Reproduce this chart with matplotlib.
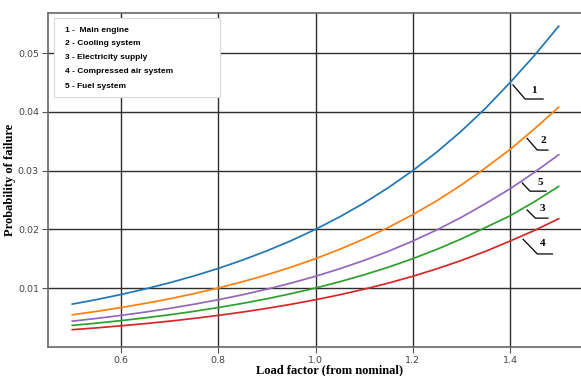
import matplotlib.pyplot as plt
from matplotlib.patches import Rectangle

# Load factor (fraction of nominal) and failure probability per subsystem
load = [0.50, 0.55, 0.60, 0.65, 0.70, 0.75, 0.80, 0.85, 0.90, 0.95, 1.00,
        1.05, 1.10, 1.15, 1.20, 1.25, 1.30, 1.35, 1.40, 1.45, 1.50]

main_engine = [0.00726, 0.00803, 0.00889, 0.00984, 0.01089, 0.01205, 0.01333,
               0.01476, 0.01633, 0.01807, 0.0200, 0.02213, 0.02449, 0.02711,
               0.0300, 0.0332, 0.03674, 0.04066, 0.0450, 0.0496, 0.0546]
cooling = [0.00544, 0.00602, 0.00667, 0.00738, 0.00816, 0.00904, 0.0100,
           0.01107, 0.01225, 0.01355, 0.0150, 0.0166, 0.01837, 0.02033,
           0.0225, 0.0249, 0.02756, 0.0305, 0.03360, 0.0371, 0.0408]
electricity = [0.00363, 0.00402, 0.00444, 0.00492, 0.00544, 0.00602, 0.00667,
               0.00738, 0.00816, 0.00904, 0.0100, 0.01107, 0.01225, 0.01355,
               0.0150, 0.0166, 0.01837, 0.02033, 0.0223, 0.0247, 0.0273]
compressed_air = [0.0029, 0.00321, 0.00356, 0.00393, 0.00435, 0.00482, 0.00533,
                  0.0059, 0.00653, 0.00723, 0.0080, 0.00885, 0.0098, 0.01084,
                  0.0120, 0.01328, 0.0147, 0.01626, 0.0180, 0.0198, 0.0218]
fuel = [0.00435, 0.00482, 0.00533, 0.0059, 0.00653, 0.00723, 0.0080,
        0.00885, 0.0098, 0.01084, 0.0120, 0.01328, 0.0147, 0.01626,
        0.0180, 0.01992, 0.02205, 0.0244, 0.0269, 0.0297, 0.0327]

legend_labels = ["1 -  Main engine", "2 - Cooling system", "3 - Electricity supply",
                 "4 - Compressed air system", "5 - Fuel system"]

# curve number, leader start, elbow, end, text position (data coords)
callouts = [
    ("1", (1.406, 0.0446), (1.431, 0.0422), (1.468, 0.0422), (1.449, 0.0437)),
    ("2", (1.435, 0.0355), (1.456, 0.0335), (1.478, 0.0335), (1.468, 0.0352)),
    ("5", (1.425, 0.0279), (1.441, 0.0265), (1.474, 0.0265), (1.462, 0.0280)),
    ("3", (1.435, 0.0233), (1.452, 0.0219), (1.478, 0.0219), (1.466, 0.0236)),
    ("4", (1.427, 0.0183), (1.456, 0.0158), (1.487, 0.0158), (1.468, 0.0175)),
]

W, H = 581, 376
fig = plt.figure(figsize=(W / 100, H / 100), dpi=100)
ax = fig.add_axes([48 / W, 1 - 346.7 / H, 535 / W, 333.4 / H])

ax.plot(load, main_engine, color="C0", lw=1.25)
ax.plot(load, cooling, color="C1", lw=1.25)
ax.plot(load, electricity, color="C2", lw=1.25)
ax.plot(load, compressed_air, color="C3", lw=1.25)
ax.plot(load, fuel, color="C4", lw=1.25)

ax.set_xlim(0.45, 1.55)
ax.set_ylim(0, 0.0568)
ax.set_xticks([0.6, 0.8, 1.0, 1.2, 1.4])
ax.set_yticks([0.01, 0.02, 0.03, 0.04, 0.05])
ax.set_xticklabels(["0.6", "0.8", "1.0", "1.2", "1.4"])
ax.set_yticklabels(["0.01", "0.02", "0.03", "0.04", "0.05"])
ax.grid(True, color="#2e2e2e", lw=1.0)
ax.set_axisbelow(True)
ax.tick_params(colors="#555555", labelsize=6.8, length=4, pad=2.5,
               labelcolor="#444444")
for s in ax.spines.values():
    s.set_color("#666666")
    s.set_linewidth(1.2)

ax.set_xlabel("Load factor (from nominal)", family="Liberation Serif",
              fontweight="bold", fontsize=9)
ax.set_ylabel("Probability of failure", family="Liberation Serif",
              fontweight="bold", fontsize=9)
ax.xaxis.set_label_coords(0.527, -0.072)
ax.yaxis.set_label_coords(-0.071, 0.5)
ax.xaxis.label.set_va("center")
ax.yaxis.label.set_va("center")

# curve numbers with leader lines
for num, p0, p1, p2, pt in callouts:
    ax.plot([p0[0], p1[0], p2[0]], [p0[1], p1[1], p2[1]], color="black", lw=0.9)
    ax.text(pt[0], pt[1], num, family="Liberation Serif", fontweight="bold",
            fontsize=8, ha="center", va="center")

# text-only key box in the upper left corner
box = Rectangle((54 / W, 1 - 97 / H), 166 / W, 79 / H, transform=fig.transFigure,
                facecolor="white", edgecolor="#d8d8d8", lw=0.8, zorder=5)
fig.add_artist(box)
row_y = [30, 43.5, 57.5, 71.5, 86]
for ypx, lab in zip(row_y, legend_labels):
    fig.text(65 / W, 1 - ypx / H, lab, family="Liberation Sans", fontweight="bold",
             fontsize=6.0, va="center", ha="left", zorder=6)

fig.savefig("out.png", dpi=100)
